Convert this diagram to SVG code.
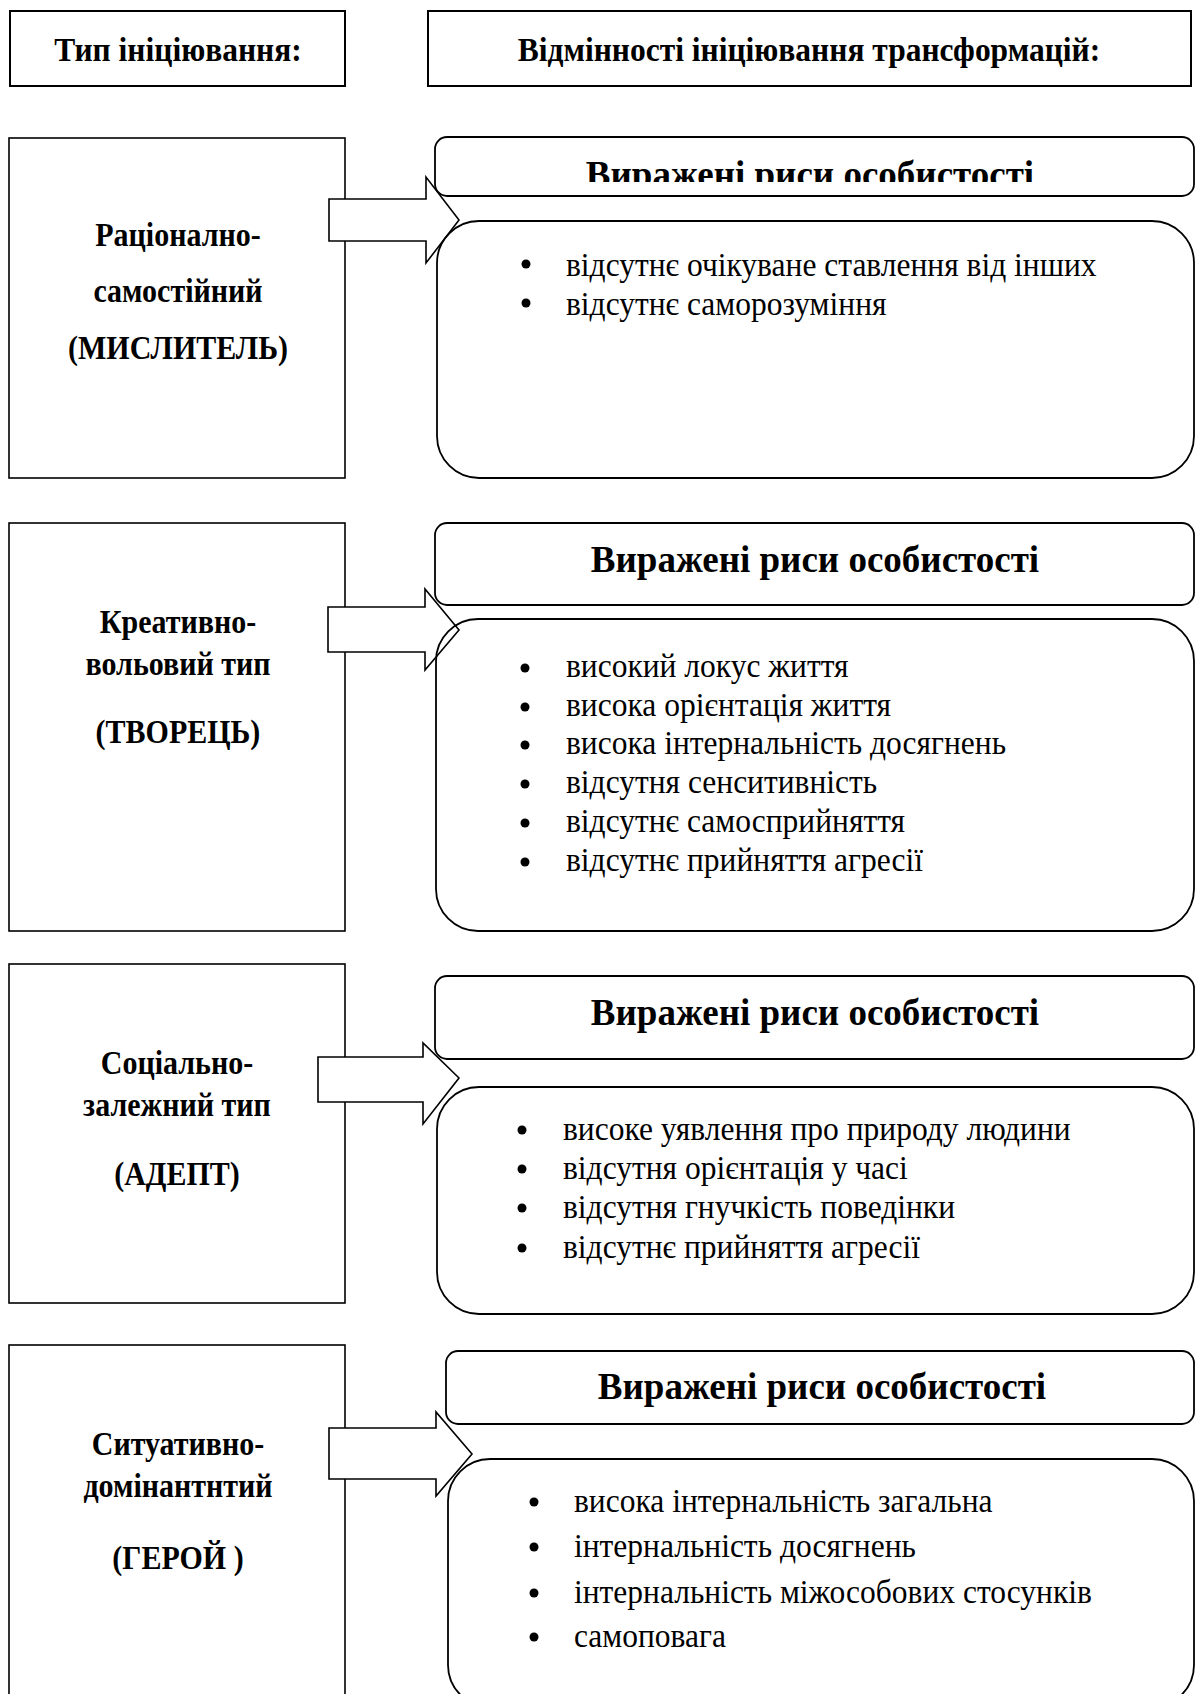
<svg xmlns="http://www.w3.org/2000/svg" width="1196" height="1694" viewBox="0 0 1196 1694">
<style>
.box{fill:#fff;stroke:#000;stroke-width:1.6}
.hbox{fill:#fff;stroke:#000;stroke-width:2}
.rbox{fill:none;stroke:#000;stroke-width:1.8}
.arrow{fill:#fff;stroke:#000;stroke-width:1.6;stroke-linejoin:miter}
.lbl{font-family:"Liberation Serif","Times New Roman",serif;font-weight:bold;font-size:30px;text-anchor:middle;fill:#000}
.hdr{font-family:"Liberation Serif","Times New Roman",serif;font-weight:bold;font-size:31.5px;text-anchor:middle;fill:#000}
.ttl{font-family:"Liberation Serif","Times New Roman",serif;font-weight:bold;font-size:37px;text-anchor:middle;fill:#000}
.itm{font-family:"Liberation Serif","Times New Roman",serif;font-size:31.5px;fill:#000}
</style>
<defs>
<clipPath id="clip1"><rect x="430" y="130" width="766" height="52"/></clipPath>
</defs>

<g id="header-left">
<rect class="hbox" x="10" y="11" width="335" height="75"/>
<text class="hdr" x="178" y="0" transform="translate(0,61) scale(1,1.05)">Тип ініціювання:</text>
</g>
<g id="header-right">
<rect class="hbox" x="428" y="11" width="763" height="75"/>
<text class="hdr" x="809" y="0" transform="translate(0,61) scale(1,1.05)">Відмінності ініціювання трансформацій:</text>
</g>

<g id="type1">
<rect class="box" x="9" y="138" width="336" height="340"/>
<text class="lbl" x="178" y="0" transform="translate(0,246) scale(1,1.1)">Раціонално-</text>
<text class="lbl" x="178" y="0" transform="translate(0,302) scale(1,1.1)">самостійний</text>
<text class="lbl" x="178" y="0" transform="translate(0,359) scale(1,1.1)">(МИСЛИТЕЛЬ)</text>
</g>
<g id="type2">
<rect class="box" x="9" y="523" width="336" height="408"/>
<text class="lbl" x="178" y="0" transform="translate(0,633) scale(1,1.1)">Креативно-</text>
<text class="lbl" x="178" y="0" transform="translate(0,675) scale(1,1.1)">вольовий тип</text>
<text class="lbl" x="178" y="0" transform="translate(0,743) scale(1,1.1)">(ТВОРЕЦЬ)</text>
</g>
<g id="type3">
<rect class="box" x="9" y="964" width="336" height="339"/>
<text class="lbl" x="177" y="0" transform="translate(0,1074) scale(1,1.1)">Соціально-</text>
<text class="lbl" x="177" y="0" transform="translate(0,1116) scale(1,1.1)">залежний тип</text>
<text class="lbl" x="177" y="0" transform="translate(0,1185) scale(1,1.1)">(АДЕПТ)</text>
</g>
<g id="type4">
<rect class="box" x="9" y="1345" width="336" height="360"/>
<text class="lbl" x="178" y="0" transform="translate(0,1455) scale(1,1.1)">Ситуативно-</text>
<text class="lbl" x="178" y="0" transform="translate(0,1497) scale(1,1.1)">домінантнтий</text>
<text class="lbl" x="178" y="0" transform="translate(0,1569) scale(1,1.1)">(ГЕРОЙ )</text>
</g>

<g id="connectors">
<polygon class="arrow" points="329,199 426,199 426,177 459,220 426,263 426,241 329,241"/>
<polygon class="arrow" points="328,607 425,607 425,589 459,630 425,670 425,652 328,652"/>
<polygon class="arrow" points="318,1057 423,1057 423,1043 459,1078 423,1124 423,1102 318,1102"/>
<polygon class="arrow" points="329,1428 436,1428 436,1412 472,1454 436,1496 436,1479 329,1479"/>
</g>

<g id="traits1">
<rect class="rbox" x="435" y="137" width="759" height="59" rx="12"/>
<text class="ttl" x="810" y="187" clip-path="url(#clip1)">Виражені риси особистості</text>
<rect class="rbox" x="437" y="221" width="757" height="257" rx="42"/>
<circle cx="526" cy="264" r="4.5"/>
<text class="itm" x="566" y="0" transform="translate(0,276) scale(1,1.1)">відсутнє очікуване ставлення від інших</text>
<circle cx="526" cy="303" r="4.5"/>
<text class="itm" x="566" y="0" transform="translate(0,315) scale(1,1.1)">відсутнє саморозуміння</text>
</g>
<g id="traits2">
<rect class="rbox" x="435" y="523" width="759" height="82" rx="12"/>
<text class="ttl" x="815" y="572">Виражені риси особистості</text>
<rect class="rbox" x="436" y="619" width="758" height="312" rx="42"/>
<circle cx="525" cy="668" r="4.5"/>
<text class="itm" x="566" y="0" transform="translate(0,677) scale(1,1.1)">високий локус життя</text>
<circle cx="525" cy="707" r="4.5"/>
<text class="itm" x="566" y="0" transform="translate(0,716) scale(1,1.1)">висока орієнтація життя</text>
<circle cx="525" cy="745" r="4.5"/>
<text class="itm" x="566" y="0" transform="translate(0,754) scale(1,1.1)">висока інтернальність досягнень</text>
<circle cx="525" cy="784" r="4.5"/>
<text class="itm" x="566" y="0" transform="translate(0,793) scale(1,1.1)">відсутня сенситивність</text>
<circle cx="525" cy="823" r="4.5"/>
<text class="itm" x="566" y="0" transform="translate(0,832) scale(1,1.1)">відсутнє самосприйняття</text>
<circle cx="525" cy="862" r="4.5"/>
<text class="itm" x="566" y="0" transform="translate(0,871) scale(1,1.1)">відсутнє прийняття агресії</text>
</g>
<g id="traits3">
<rect class="rbox" x="435" y="976" width="759" height="83" rx="12"/>
<text class="ttl" x="815" y="1025">Виражені риси особистості</text>
<rect class="rbox" x="437" y="1087" width="757" height="227" rx="42"/>
<circle cx="522" cy="1130" r="4.5"/>
<text class="itm" x="563" y="0" transform="translate(0,1140) scale(1,1.1)">високе уявлення про природу людини</text>
<circle cx="522" cy="1169" r="4.5"/>
<text class="itm" x="563" y="0" transform="translate(0,1179) scale(1,1.1)">відсутня орієнтація у часі</text>
<circle cx="522" cy="1208" r="4.5"/>
<text class="itm" x="563" y="0" transform="translate(0,1218) scale(1,1.1)">відсутня гнучкість поведінки</text>
<circle cx="522" cy="1248" r="4.5"/>
<text class="itm" x="563" y="0" transform="translate(0,1258) scale(1,1.1)">відсутнє прийняття агресії</text>
</g>
<g id="traits4">
<rect class="rbox" x="446" y="1351" width="748" height="73" rx="12"/>
<text class="ttl" x="822" y="1399">Виражені риси особистості</text>
<rect class="rbox" x="448" y="1459" width="746" height="248" rx="42"/>
<circle cx="534" cy="1502" r="4.5"/>
<text class="itm" x="574" y="0" transform="translate(0,1512) scale(1,1.1)">висока інтернальність загальна</text>
<circle cx="534" cy="1547" r="4.5"/>
<text class="itm" x="574" y="0" transform="translate(0,1557) scale(1,1.1)">інтернальність досягнень</text>
<circle cx="534" cy="1593" r="4.5"/>
<text class="itm" x="574" y="0" transform="translate(0,1603) scale(1,1.1)">інтернальність міжособових стосунків</text>
<circle cx="534" cy="1637" r="4.5"/>
<text class="itm" x="574" y="0" transform="translate(0,1647) scale(1,1.1)">самоповага</text>
</g>
</svg>
